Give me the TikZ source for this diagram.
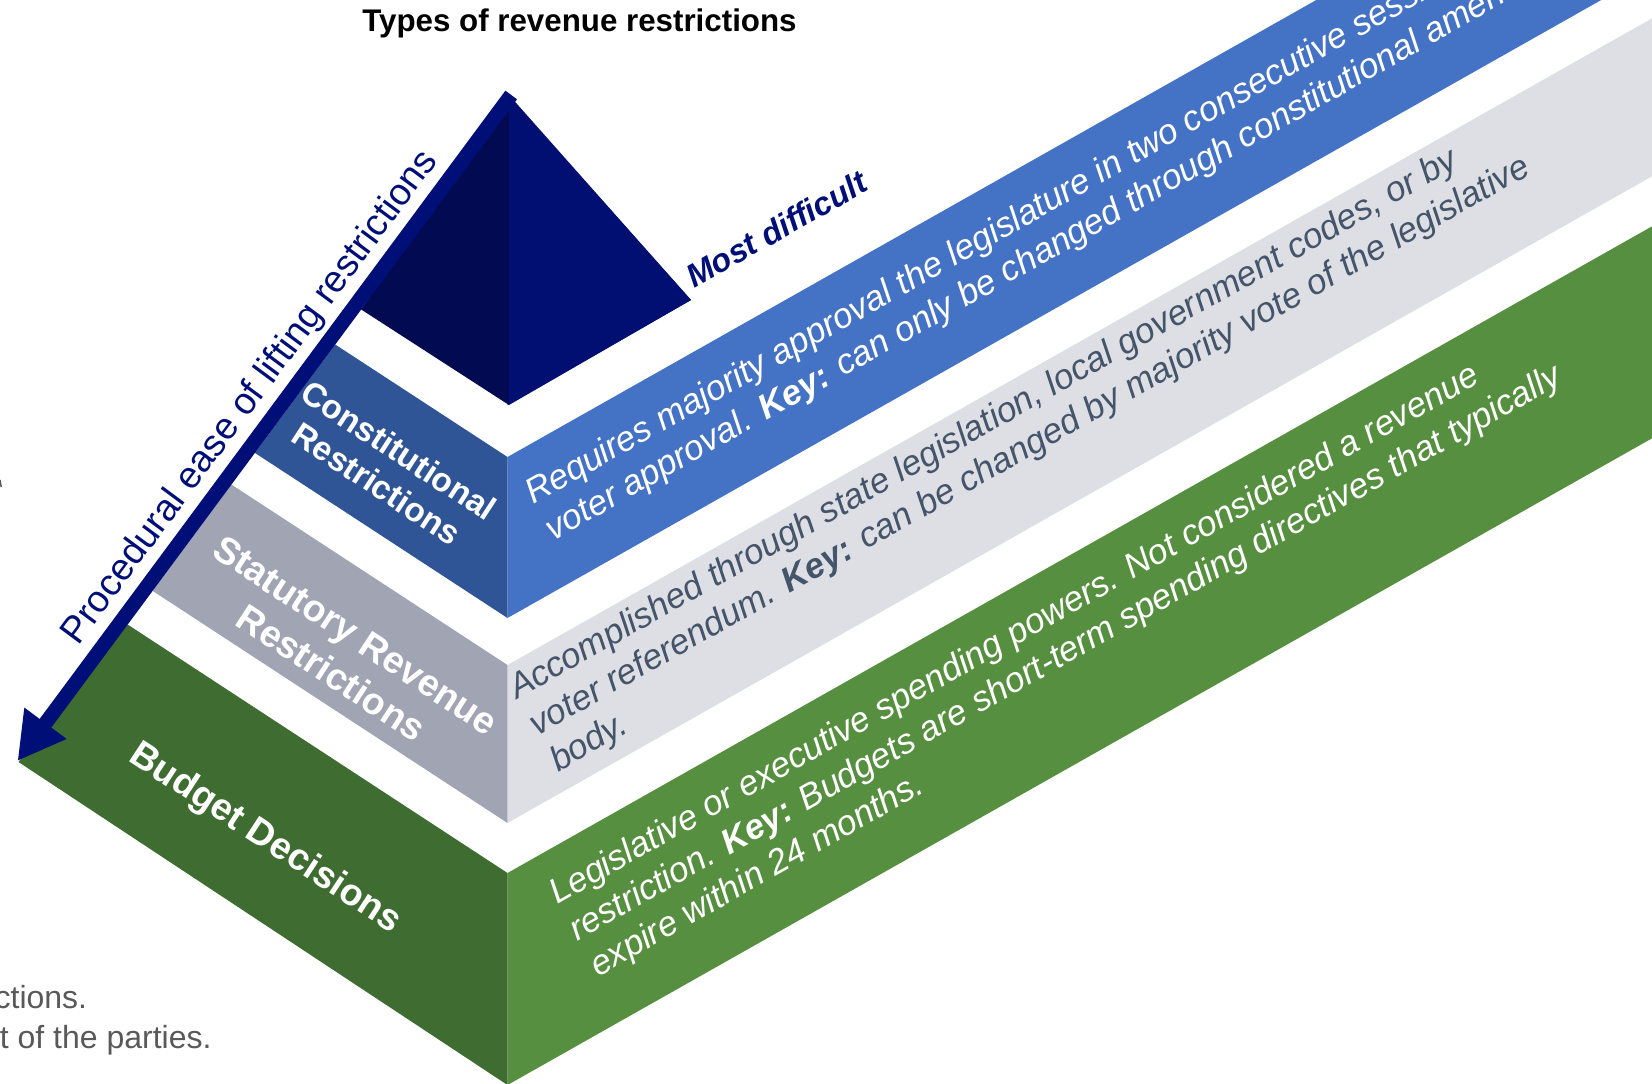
\documentclass[tikz,border=0pt]{standalone}
\usepackage{fontspec}
\setmainfont{Liberation Sans}
\usetikzlibrary{arrows.meta}

% palette
\definecolor{pyrL}{HTML}{020A52}
\definecolor{pyrR}{HTML}{000F71}
\definecolor{navy}{HTML}{000F78}
\definecolor{constL}{HTML}{2F5597}
\definecolor{constR}{HTML}{4472C4}
\definecolor{statL}{HTML}{A1A4B3}
\definecolor{statR}{HTML}{DEDFE4}
\definecolor{statText}{HTML}{44546A}
\definecolor{budgL}{HTML}{3F6C31}
\definecolor{budgR}{HTML}{568F3F}
\definecolor{note}{HTML}{595959}

\begin{document}
\begin{tikzpicture}[x=1pt,y=-1pt,
  lvllabel/.style={text=white, align=center, inner sep=0pt, rotate=-33.2},
  desc/.style={anchor=base west, inner sep=0pt, rotate=29.5,
               font=\fontsize{35}{41.5}\selectfont\itshape},
]
\useasboundingbox (0,0) rectangle (1652,1084);

% ---- corner points of the stepped pyramid
\coordinate (apex) at (508,95);
\coordinate (pR)   at (691,300);
\coordinate (pB)   at (507.5,405);
\coordinate (pL)   at (361.2,309.5);
\coordinate (pBx)  at (509,405);
\coordinate (apexx) at (509,95);

\coordinate (cTL) at (335.2,344.5);
\coordinate (cT)  at (507.5,457);
\coordinate (cB)  at (507.5,618);
\coordinate (cBL) at (254.9,452.9);
\coordinate (cTR) at (1700,-216.8);
\coordinate (cBR) at (1700,-55.8);

\coordinate (sTL) at (231.4,484.5);
\coordinate (sT)  at (507.5,665);
\coordinate (sB)  at (507.5,823);
\coordinate (sBL) at (152.5,590.8);
\coordinate (sTR) at (1700,-8.8);
\coordinate (sBR) at (1700,149.2);

\coordinate (bTL) at (127.6,624.5);
\coordinate (bT)  at (507.5,873);
\coordinate (bB)  at (507.5,1085);
\coordinate (bBL) at (18.5,762);
\coordinate (bTR) at (1700,199.2);
\coordinate (bBR) at (1700,411.2);

\coordinate (arrtop) at (511.2,95);
\coordinate (arrtip) at (17.5,761);

\begin{scope}
\clip (0,0) rectangle (1652,1084);
% top block (right face drawn first, left face overlaps the seam slightly)
\fill[pyrR] (apex) -- (pR) -- (pB) -- cycle;
\fill[pyrL] (apexx) -- (pL) -- (pBx) -- cycle;
\fill[pyrR] (apexx) -- (pR) -- (pBx) -- cycle;
% constitutional
\fill[constL] (cTL) -- (cT) -- (cB) -- (cBL) -- cycle;
\fill[constR] (cT) -- (cTR) -- (cBR) -- (cB) -- cycle;
% statutory
\fill[statL] (sTL) -- (sT) -- (sB) -- (sBL) -- cycle;
\fill[statR] (sT) -- (sTR) -- (sBR) -- (sB) -- cycle;
% budget
\fill[budgL] (bTL) -- (bT) -- (bB) -- (bBL) -- cycle;
\fill[budgR] (bT) -- (bTR) -- (bBR) -- (bB) -- cycle;

% ease arrow along the left flank
\draw[navy, line width=14.5pt, -{Triangle[length=47pt,width=49pt]}] (arrtop) -- (arrtip);

% description texts on the slabs
\node[desc, text=white] (dconst) at (533,505)
  {\begin{tabular}[t]{@{}l@{}}Requires majority approval the legislature in two consecutive sessions\\
   voter approval. \textbf{Key:} can only be changed through constitutional amendment.\end{tabular}};
\node[desc, text=statText] (dstat) at (517,700)
  {\begin{tabular}[t]{@{}l@{}}Accomplished through state legislation, local government codes, or by\\
   voter referendum. \textbf{Key:} can be changed by majority vote of the legislative\\
   body.\end{tabular}};
\node[desc, text=white] (dbudg) at (557,905)
  {\begin{tabular}[t]{@{}l@{}}Legislative or executive spending powers. Not considered a revenue\\
   restriction. \textbf{Key:} Budgets are short-term spending directives that typically\\
   expire within 24 months.\end{tabular}};
\end{scope}

% level names on the front faces
\node[lvllabel, font=\fontsize{33.5}{40}\selectfont\bfseries] (lconst) at (388,467)
  {Constitutional\\Restrictions};
\node[lvllabel, font=\fontsize{37.5}{45}\selectfont\bfseries] (lstat) at (343.5,654)
  {Statutory Revenue\\Restrictions};
\node[lvllabel, font=\fontsize{37.5}{45}\selectfont\bfseries] (lbudg) at (265,839)
  {Budget Decisions};

% headings
\node[anchor=base, inner sep=0pt, font=\fontsize{31.3}{37}\selectfont\bfseries] (title) at (579.5,31.5)
  {Types of revenue restrictions};
\node[anchor=base west, inner sep=0pt, rotate=29.5, text=navy,
      font=\fontsize{32.5}{38}\selectfont\bfseries\itshape] (hard) at (694,289) {Most difficult};
\node[anchor=base west, inner sep=0pt, rotate=53.45, text=navy,
      font=\fontsize{37.5}{44}\selectfont] (ease) at (78.3,646.7) {Procedural ease of lifting restrictions};

% trailing note lines at the lower left
\node[anchor=base east, inner sep=0pt, text=note, font=\fontsize{32}{38}\selectfont] (n1) at (87.3,1008.3) {ctions.};
\node[anchor=base east, inner sep=0pt, text=note, font=\fontsize{32}{38}\selectfont] (n2) at (211.7,1048.3) {t of the parties.};
\draw[note, line width=1.5pt] (0,480) -- (1.2,487);
\end{tikzpicture}
\end{document}
